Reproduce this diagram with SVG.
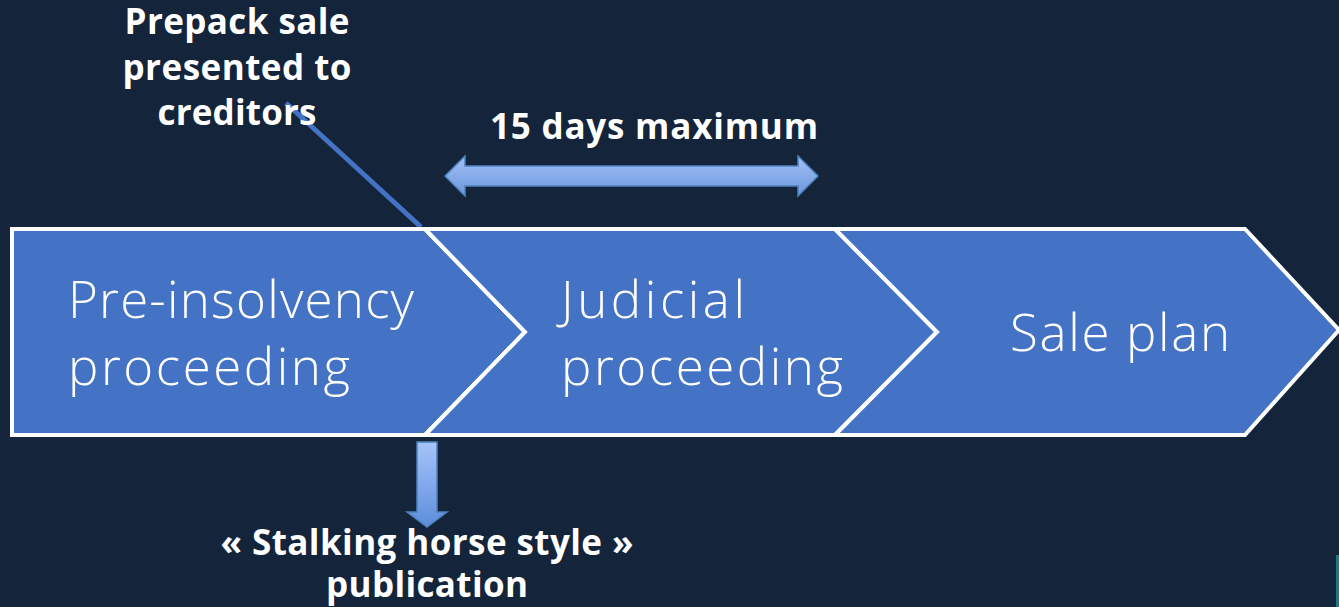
<svg xmlns="http://www.w3.org/2000/svg" width="1339" height="607" viewBox="0 0 1339 607">
<style>
.stage{fill:#4472C4;stroke:#FFFFFF;stroke-width:4;stroke-linejoin:miter}
.big{font-family:"Open Sans","Liberation Sans",sans-serif;font-weight:300;font-size:51px;fill:#FFFFFF}
.lbl{font-family:"Open Sans","Liberation Sans",sans-serif;font-weight:700;font-size:35px;fill:#FFFFFF;text-anchor:middle}
.arr{stroke:#4F81BD;stroke-width:1.5}
</style>
<defs>
<linearGradient id="gh" x1="0" y1="0" x2="0" y2="1">
<stop offset="0" stop-color="#A3C0F7"/>
<stop offset="1" stop-color="#6A98DE"/>
</linearGradient>
<linearGradient id="gv" x1="0" y1="0" x2="0" y2="1">
<stop offset="0" stop-color="#A7C3FA"/>
<stop offset="1" stop-color="#5C8EDB"/>
</linearGradient>
</defs>
<rect x="0" y="0" width="1339" height="607" fill="#13243B"/>
<g id="connectors">
<line x1="286" y1="103" x2="421" y2="227" stroke="#4472C4" stroke-width="5"/>
<path id="arrow-15days" class="arr" fill="url(#gh)" d="M445,176 L465,156 L465,166 L798,166 L798,156 L818,176 L798,196 L798,186 L465,186 L465,196 Z"/>
<path id="arrow-down" class="arr" fill="url(#gv)" d="M417,442 L437,442 L437,512 L447,512 L427,527 L407,512 L417,512 Z"/>
</g>
<g id="node-pre-insolvency">
<path class="stage" d="M12,229 L425,229 L525,332 L425,435 L12,435 Z"/>
<text class="big" x="68" y="318" textLength="346" lengthAdjust="spacing">Pre-insolvency</text>
<text class="big" x="68" y="385" textLength="282" lengthAdjust="spacing">proceeding</text>
</g>
<g id="node-judicial">
<path class="stage" d="M425,229 L835,229 L937,332 L835,435 L425,435 L525,332 Z"/>
<text class="big" x="561" y="318" textLength="184" lengthAdjust="spacing">Judicial</text>
<text class="big" x="561" y="385" textLength="282" lengthAdjust="spacing">proceeding</text>
</g>
<g id="node-sale-plan">
<path class="stage" d="M835,229 L1245,229 L1339,330 L1245,435 L835,435 L937,332 Z"/>
<text class="big" x="1010" y="351" textLength="220" lengthAdjust="spacing">Sale plan</text>
</g>
<g id="label-prepack">
<text class="lbl" x="237" y="34" textLength="225" lengthAdjust="spacing">Prepack sale</text>
<text class="lbl" x="237" y="80" textLength="229" lengthAdjust="spacing">presented to</text>
<text class="lbl" x="237" y="125" textLength="159" lengthAdjust="spacing">creditors</text>
</g>
<g id="label-15days">
<text class="lbl" x="654" y="139" textLength="328" lengthAdjust="spacing">15 days maximum</text>
</g>
<g id="label-stalking">
<text class="lbl" x="427" y="555" textLength="413" lengthAdjust="spacing">« Stalking horse style »</text>
<text class="lbl" x="427" y="597" textLength="202" lengthAdjust="spacing">publication</text>
</g>
<rect x="1336" y="555" width="3" height="52" fill="#1F7A80"/>
</svg>
